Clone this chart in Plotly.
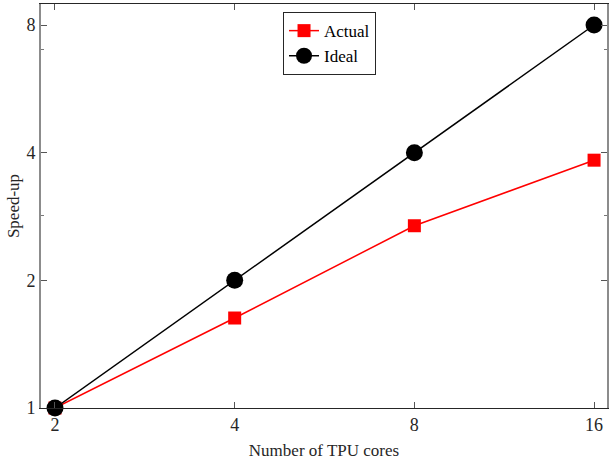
import plotly.graph_objects as go

cores = [2, 4, 8, 16]
actual = [1.0, 1.63, 2.69, 3.84]
ideal = [1, 2, 4, 8]
x_ticks = [2, 4, 8, 16]
y_ticks = [1, 2, 4, 8]
y_minor = [2.85, 7]

FONT = "Liberation Serif, Times New Roman, serif"

fig = go.Figure()
fig.add_trace(go.Scatter(
    x=cores, y=actual, mode="lines+markers", name="Actual",
    line=dict(color="#ff0000", width=1.5),
    marker=dict(symbol="square", size=13, color="#ff0000"),
    cliponaxis=False,
))
fig.add_trace(go.Scatter(
    x=cores, y=ideal, mode="lines+markers", name="Ideal",
    line=dict(color="#000000", width=1.5),
    marker=dict(symbol="circle", size=17, color="#000000"),
    cliponaxis=False,
))

fig.update_layout(
    width=610, height=466,
    margin=dict(l=41, r=3, t=4, b=58, autoexpand=False),
    paper_bgcolor="white", plot_bgcolor="white",
    font=dict(family=FONT, size=17, color="#262626"),
    showlegend=True,
    legend=dict(
        x=0.4276, y=0.98, xanchor="left", yanchor="top",
        bgcolor="white", bordercolor="#262626", borderwidth=1,
        font=dict(family=FONT, size=17, color="#000000"),
        tracegroupgap=0, itemwidth=30,
    ),
)
fig.update_xaxes(
    type="log", range=[0.2776, 1.2258], automargin=False,
    tickvals=x_ticks, ticktext=[str(v) for v in x_ticks],
    ticks="inside", ticklen=6, tickcolor="#555555",
    showline=True, linecolor="#262626", linewidth=1.2, mirror="ticks",
    showgrid=False, zeroline=False,
    tickfont=dict(family=FONT, size=18, color="#262626"),
    title=dict(text="Number of TPU cores", font=dict(family=FONT, size=17, color="#262626"), standoff=10),
)
fig.update_yaxes(
    type="log", range=[0, 0.9526], automargin=False,
    tickvals=y_ticks, ticktext=[str(v) for v in y_ticks],
    ticks="inside", ticklen=6, tickcolor="#555555",
    minor=dict(tickvals=y_minor, ticks="inside", ticklen=3, tickcolor="#777777"),
    showline=True, linecolor="#8c8c8c", linewidth=2, mirror="ticks",
    showgrid=False, zeroline=False,
    tickfont=dict(family=FONT, size=18, color="#262626"),
    title=dict(text="Speed-up", font=dict(family=FONT, size=17, color="#262626"), standoff=2),
)

fig.write_html(
    "out.html",
    config={"displayModeBar": False},
    post_script="document.body.style.margin='0';document.body.style.padding='0';",
)
